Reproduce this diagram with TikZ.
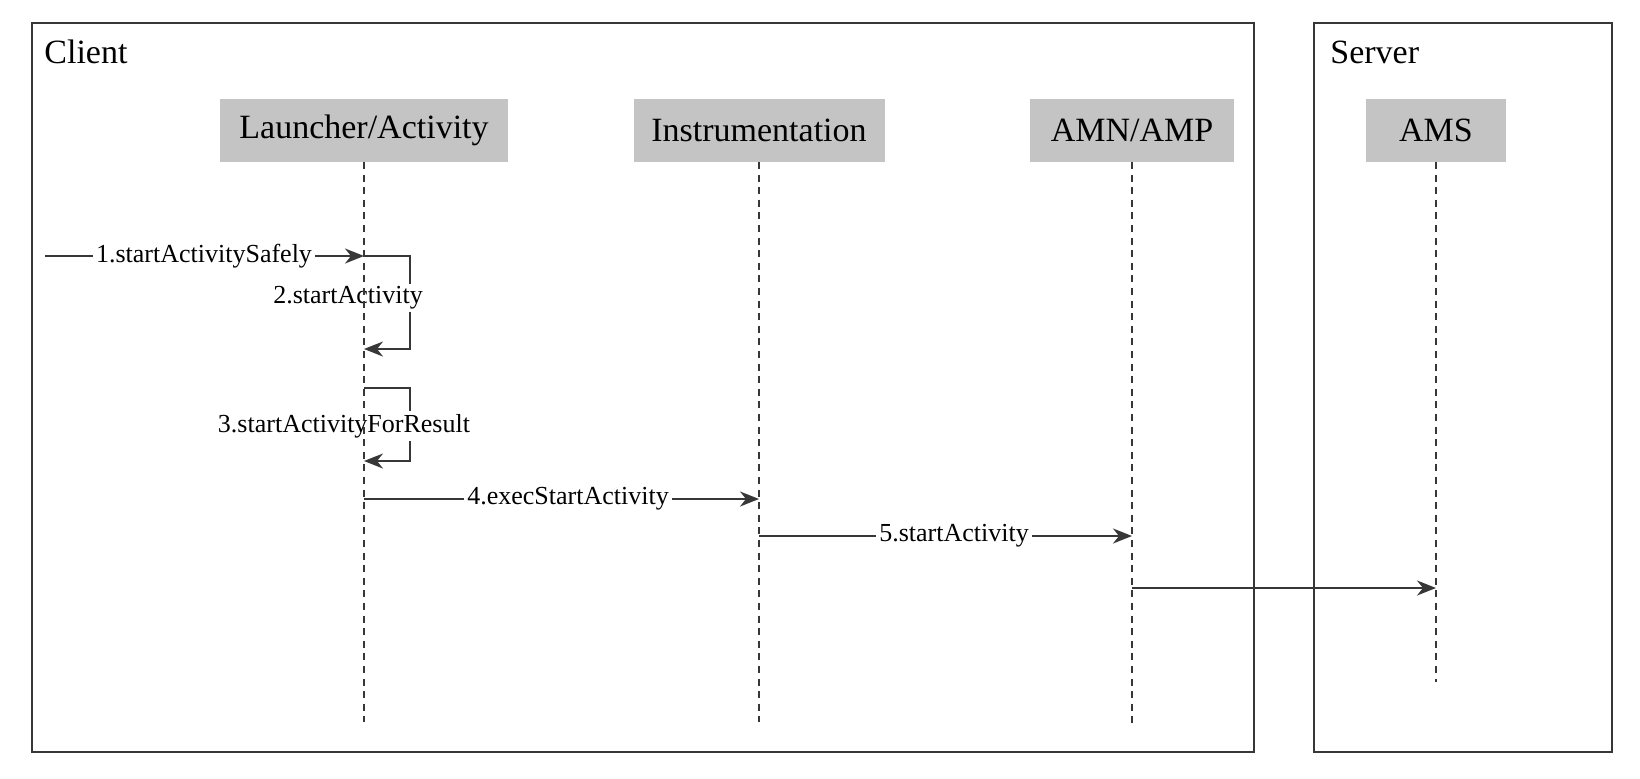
\documentclass[tikz,border=0pt]{standalone}
\usepackage{fontspec}
\setmainfont{Liberation Serif}
\usetikzlibrary{arrows.meta,positioning}
\definecolor{headColor}{RGB}{196,196,196}
\definecolor{lineColor}{RGB}{55,55,55}
\tikzstyle{frameStyle} = [draw=lineColor, line width=1pt]
\tikzstyle{frameText} = [anchor=west, inner sep=0pt, font=\fontsize{17}{20}\selectfont]
\tikzstyle{headStyle} = [fill=headColor, minimum height=31.5pt, inner xsep=8pt, font=\fontsize{17}{20}\selectfont]
\tikzstyle{lifeLine} = [draw=lineColor, line width=0.8pt, dash pattern=on 3.5pt off 2.8pt]
\tikzstyle{msgLine} = [draw=lineColor, line width=1pt, -{Stealth[length=9.5pt, width=7.5pt, inset=3pt]}]
\tikzstyle{msgText} = [fill=white, inner sep=1.5pt, font=\fontsize{13}{15}\selectfont]
\newcommand{\lifeLineTo}[2]{\draw [lifeLine] (#1.south) -- (#2);}
\newcommand{\selfCall}[3]{\draw [msgLine] (#1 |- 0,#2) -- (410,#2) -- (410,#3) -- (#1 |- 0,#3);}

\begin{document}
\begin{tikzpicture}[x = 0.5pt, y = -0.5pt]
  \useasboundingbox (0,0) rectangle (1640,778);
  % frames
  \draw [frameStyle] (32,23) rectangle (1254,752);
  \draw [frameStyle] (1314,23) rectangle (1612,752);
  \node [frameText] (client) at (44,52) {Client};
  \node [frameText] (server) at (1330,52) {Server};

  % heads
  \node [headStyle, minimum width=144pt] (launcher) at (364,130) {Launcher/Activity};
  \node [headStyle, minimum width=125.5pt] (instr) at (759,130) {Instrumentation};
  \node [headStyle, minimum width=102pt] (amn) at (1132,130) {AMN/AMP};
  \node [headStyle, minimum width=70pt] (ams) at (1436,130) {AMS};

  \coordinate (launcherEnd) at (364,722);
  \coordinate (instrEnd) at (759,722);
  \coordinate (amnEnd) at (1132,725);
  \coordinate (amsEnd) at (1436,682);
  \coordinate (caller) at (45,256);

  % calls
  \draw [msgLine] (caller) -- (launcher |- caller);
  \selfCall{launcher}{256}{349}
  \selfCall{launcher}{388}{461}
  \draw [msgLine] (launcher |- 0,499) -- (instr |- 0,499);
  \draw [msgLine] (instr |- 0,536) -- (amn |- 0,536);
  \draw [msgLine] (amn |- 0,588) -- (ams |- 0,588);

  \node [msgText] (call1) at (204,256) {1.startActivitySafely};
  \node [msgText] (call2) at (348,298) {2.startActivity};
  \node [msgText] (call3) at (344,426) {3.startActivityForResult};
  \node [msgText] (call4) at (568,499) {4.execStartActivity};
  \node [msgText] (call5) at (954,536) {5.startActivity};

  % life lines
  \lifeLineTo{launcher}{launcherEnd}
  \lifeLineTo{instr}{instrEnd}
  \lifeLineTo{amn}{amnEnd}
  \lifeLineTo{ams}{amsEnd}
\end{tikzpicture}
\end{document}
